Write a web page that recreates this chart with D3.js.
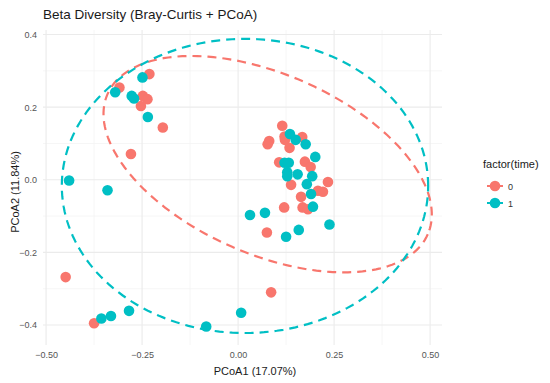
<!DOCTYPE html>
<html>
<head>
<meta charset="utf-8">
<script src="https://cdn.jsdelivr.net/npm/d3@7"></script>
<style>
  body { margin: 0; background: #fff; }
  text { font-family: "Liberation Sans", Arial, sans-serif; }
</style>
</head>
<body>
<svg id="chart" width="550" height="383"></svg>
<script>
// PCoA scores, per level of factor(time)
const time0_pc1 = [-0.231, -0.309, -0.248, -0.236, -0.253, -0.196, -0.279, -0.449, -0.375, 0.086,
  0.115, 0.081, 0.077, 0.121, 0.122, 0.167, 0.134, 0.107, 0.174, 0.189,
  0.234, 0.138, 0.208, 0.221, 0.164, 0.120, 0.168, 0.182, 0.075];
const time0_pc2 = [0.291, 0.254, 0.231, 0.222, 0.203, 0.144, 0.071, -0.268, -0.395, -0.310,
  0.149, 0.107, 0.098, 0.119, 0.110, 0.118, 0.088, 0.048, 0.050, 0.035,
  -0.006, -0.014, -0.030, -0.033, -0.047, -0.076, -0.076, -0.081, -0.145];
const time1_pc1 = [-0.249, -0.320, -0.277, -0.271, -0.235, -0.440, -0.340, -0.356, -0.331, -0.284,
  -0.083, 0.008, 0.135, 0.150, 0.176, 0.201, 0.121, 0.132, 0.128, 0.128,
  0.155, 0.193, 0.179, 0.190, 0.195, 0.070, 0.031, 0.238, 0.158, 0.125];
const time1_pc2 = [0.282, 0.241, 0.231, 0.224, 0.173, -0.002, -0.029, -0.382, -0.375, -0.361,
  -0.404, -0.366, 0.126, 0.110, 0.098, 0.063, 0.047, 0.047, 0.021, 0.010,
  0.015, 0.010, -0.012, -0.039, -0.074, -0.091, -0.097, -0.123, -0.138, -0.157];

const groups = ['0', '1'];
const groupColours = ['#F8766D', '#00BFC4'];

// 95% ellipses (centre and two conjugate semi-axes, in PCoA units)
const ellipseCentre = [[0.077, 0.043], [0.018, -0.017]];
const ellipseAxisU = [[0.417, -0.193], [0.477, 0.0]];
const ellipseAxisV = [[-0.094, -0.227], [0.0, 0.405]];

const xTicks = [-0.5, -0.25, 0, 0.25, 0.5];
const xMinor = [-0.375, -0.125, 0.125, 0.375];
const yTicks = [-0.4, -0.2, 0, 0.2, 0.4];
const yMinor = [-0.3, -0.1, 0.1, 0.3];

const svg = d3.select('#chart');
const panel = { left: 43, right: 442, top: 30, bottom: 345 };

const xScale = d3.scaleLinear().domain([-0.508, 0.531]).range([panel.left, panel.right]);
const yScale = d3.scaleLinear().domain([-0.455, 0.4125]).range([panel.bottom, panel.top]);
const colour = d3.scaleOrdinal().domain(groups).range(groupColours);

const fmtX = d3.format('.2f');
const fmtY = d3.format('.1f');

// grid
const grid = svg.append('g');
grid.selectAll('.minor-x').data(xMinor).enter().append('line')
  .attr('x1', d => xScale(d)).attr('x2', d => xScale(d))
  .attr('y1', panel.top).attr('y2', panel.bottom)
  .attr('stroke', '#f2f2f2').attr('stroke-width', 0.7);
grid.selectAll('.minor-y').data(yMinor).enter().append('line')
  .attr('y1', d => yScale(d)).attr('y2', d => yScale(d))
  .attr('x1', panel.left).attr('x2', panel.right)
  .attr('stroke', '#f2f2f2').attr('stroke-width', 0.7);
grid.selectAll('.major-x').data(xTicks).enter().append('line')
  .attr('x1', d => xScale(d)).attr('x2', d => xScale(d))
  .attr('y1', panel.top).attr('y2', panel.bottom)
  .attr('stroke', '#ebebeb').attr('stroke-width', 1.1);
grid.selectAll('.major-y').data(yTicks).enter().append('line')
  .attr('y1', d => yScale(d)).attr('y2', d => yScale(d))
  .attr('x1', panel.left).attr('x2', panel.right)
  .attr('stroke', '#ebebeb').attr('stroke-width', 1.1);

// axes (labels only, theme_minimal has no lines)
const xAxis = svg.append('g')
  .attr('transform', `translate(0,${panel.bottom + 4})`)
  .call(d3.axisBottom(xScale).tickValues(xTicks).tickSize(0).tickFormat(d => fmtX(d).replace('-', '\u2212')));
const yAxis = svg.append('g')
  .attr('transform', `translate(${panel.left - 3},0)`)
  .call(d3.axisLeft(yScale).tickValues(yTicks).tickSize(0).tickFormat(d => fmtY(d).replace('-', '\u2212')));
[xAxis, yAxis].forEach(a => {
  a.select('.domain').remove();
  a.selectAll('text').attr('fill', '#555').attr('font-size', 9)
    .style('font-family', '"Liberation Sans", Arial, sans-serif');
});

// points
const pts = [];
time0_pc1.forEach((v, i) => pts.push({ x: v, y: time0_pc2[i], g: '0' }));
time1_pc1.forEach((v, i) => pts.push({ x: v, y: time1_pc2[i], g: '1' }));

svg.append('g').selectAll('circle')
  .data(pts).enter().append('circle')
  .attr('cx', d => xScale(d.x))
  .attr('cy', d => yScale(d.y))
  .attr('r', 5.3)
  .attr('fill', d => colour(d.g));

// ellipses
const line = d3.line().x(d => xScale(d[0])).y(d => yScale(d[1])).curve(d3.curveLinearClosed);
groups.forEach((g, k) => {
  const c = ellipseCentre[k], u = ellipseAxisU[k], v = ellipseAxisV[k];
  const ring = d3.range(0, 2 * Math.PI, Math.PI / 90).map(t => [
    c[0] + u[0] * Math.cos(t) + v[0] * Math.sin(t),
    c[1] + u[1] * Math.cos(t) + v[1] * Math.sin(t)
  ]);
  svg.append('path')
    .attr('d', line(ring))
    .attr('fill', 'none')
    .attr('stroke', colour(g))
    .attr('stroke-width', 2.2)
    .attr('stroke-dasharray', '9,6');
});

// titles
svg.append('text')
  .attr('x', 43).attr('y', 19)
  .attr('font-size', 13.5).attr('fill', '#1a1a1a')
  .text('Beta Diversity (Bray-Curtis + PCoA)');
svg.append('text')
  .attr('x', 255).attr('y', 375)
  .attr('text-anchor', 'middle')
  .attr('font-size', 11).attr('fill', '#1a1a1a')
  .text('PCoA1 (17.07%)');
svg.append('text')
  .attr('transform', 'translate(19,192) rotate(-90)')
  .attr('text-anchor', 'middle')
  .attr('font-size', 11).attr('fill', '#1a1a1a')
  .text('PCoA2 (11.84%)');

// legend
const legend = svg.append('g').attr('transform', 'translate(483,168)');
legend.append('text')
  .attr('x', 0).attr('y', 0)
  .attr('font-size', 11).attr('fill', '#1a1a1a')
  .text('factor(time)');
const keys = legend.selectAll('.key').data(groups).enter().append('g')
  .attr('transform', (d, i) => `translate(0,${18 + i * 17})`);
keys.append('line')
  .attr('x1', 4).attr('x2', 20)
  .attr('stroke', d => colour(d)).attr('stroke-width', 2);
keys.append('circle')
  .attr('cx', 12).attr('r', 5.3)
  .attr('fill', d => colour(d));
keys.append('text')
  .attr('x', 25).attr('y', 3.5)
  .attr('font-size', 9).attr('fill', '#333')
  .text(d => d);
</script>
</body>
</html>
